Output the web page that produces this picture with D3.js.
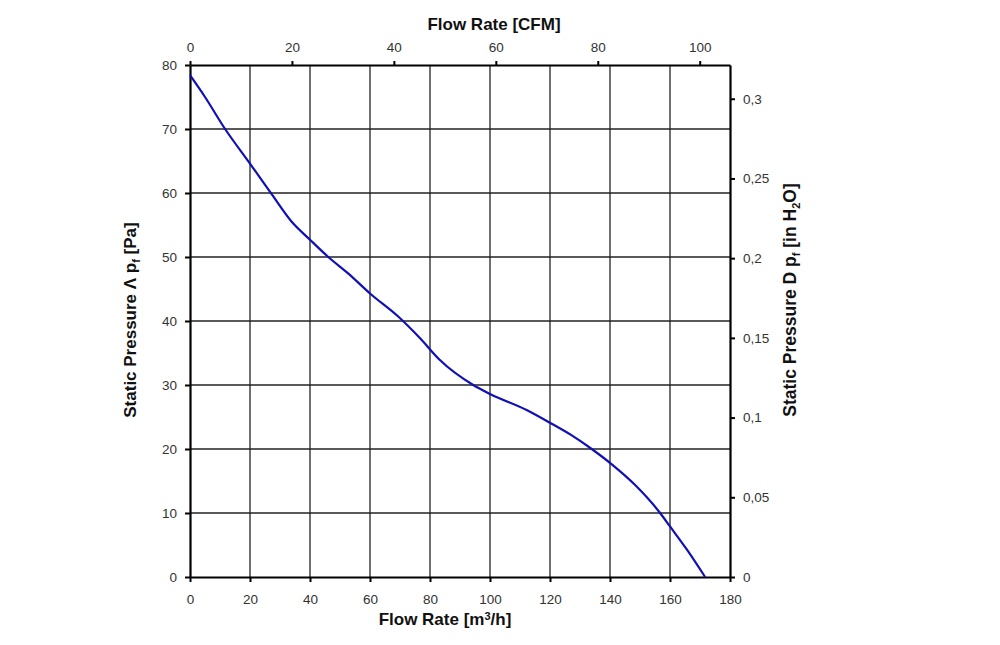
<!DOCTYPE html>
<html>
<head>
<meta charset="utf-8">
<script src="https://cdn.jsdelivr.net/npm/d3@7"></script>
<style>
  body { margin: 0; background: #fff; }
  text { font-family: "Liberation Sans", Arial, sans-serif; }
</style>
</head>
<body>
<svg id="chart"></svg>
<script>
// fan curve
var flowM3h = [0, 5, 11.7, 20, 27.4, 33.9, 40, 46.1, 52.8, 60, 69.4, 76.7, 83.3, 94.4, 100, 112.2, 120, 127, 133.9, 140.6, 148.3, 156.7, 160, 165.6, 171.7]
var pressurePa = [78.4, 75.0, 70.0, 64.6, 59.7, 55.5, 52.7, 50.0, 47.4, 44.3, 40.7, 37.3, 33.9, 30.0, 28.6, 26.1, 24.1, 22.2, 20.0, 17.6, 14.4, 10.0, 7.9, 4.3, 0]

var bottomTicks = [0, 20, 40, 60, 80, 100, 120, 140, 160, 180]
var leftTicks = [0, 10, 20, 30, 40, 50, 60, 70, 80]
var topTicks = [0, 20, 40, 60, 80, 100]
var rightTicks = [0, 0.05, 0.1, 0.15, 0.2, 0.25, 0.3]

var M3H_PER_CFM = 1.699
var PA_PER_INH2O = 249.09

var dimensions = {
    width: 1000,
    height: 645,
    margin: { top: 65, bottom: 68, right: 270, left: 190 }
}

var svg = d3.select('#chart')
    .attr("width", dimensions.width)
    .attr("height", dimensions.height)

var x0 = dimensions.margin.left
var x1 = dimensions.width - dimensions.margin.right
var y0 = dimensions.height - dimensions.margin.bottom
var y1 = dimensions.margin.top

var xScale = d3.scaleLinear().domain([0, 180]).range([x0, x1])
var yScale = d3.scaleLinear().domain([0, 80]).range([y0, y1])
var xTopScale = d3.scaleLinear().domain([0, 180 / M3H_PER_CFM]).range([x0, x1])
var yRightScale = d3.scaleLinear().domain([0, 80 / PA_PER_INH2O]).range([y0, y1])

// grid
svg.append("g")
    .selectAll("line")
    .data(bottomTicks.slice(1, -1))
    .enter().append("line")
    .attr("x1", d => xScale(d)).attr("x2", d => xScale(d))
    .attr("y1", y1).attr("y2", y0)
    .attr("stroke", "#222").attr("stroke-width", 1.3)

svg.append("g")
    .selectAll("line")
    .data(leftTicks.slice(1, -1))
    .enter().append("line")
    .attr("y1", d => yScale(d)).attr("y2", d => yScale(d))
    .attr("x1", x0).attr("x2", x1)
    .attr("stroke", "#222").attr("stroke-width", 1.3)

function styleAxis(g) {
    g.select(".domain").attr("stroke", "#000").attr("stroke-width", 2.2)
    g.selectAll(".tick line").attr("stroke", "#000").attr("stroke-width", 2)
    g.selectAll(".tick text")
        .attr("fill", "#333")
        .style("font-size", "13.5px")
        .style("font-family", "'Liberation Sans', Arial, sans-serif")
}

var commaFmt = d => d3.format("~g")(d).replace(".", ",")

svg.append("g")
    .attr("transform", `translate(0,${y0})`)
    .call(d3.axisBottom(xScale).tickValues(bottomTicks).tickSize(5).tickSizeOuter(0).tickPadding(12))
    .call(styleAxis)

svg.append("g")
    .attr("transform", `translate(${x0},0)`)
    .call(d3.axisLeft(yScale).tickValues(leftTicks).tickSize(5).tickSizeOuter(0).tickPadding(8))
    .call(styleAxis)

svg.append("g")
    .attr("transform", `translate(0,${y1})`)
    .call(d3.axisTop(xTopScale).tickValues(topTicks).tickSize(4).tickSizeOuter(0).tickPadding(9))
    .call(styleAxis)

svg.append("g")
    .attr("transform", `translate(${x1},0)`)
    .call(d3.axisRight(yRightScale).tickValues(rightTicks).tickFormat(commaFmt).tickSize(5).tickSizeOuter(0).tickPadding(8))
    .call(styleAxis)

// curve
var points = flowM3h.map((f, i) => [f, pressurePa[i]])
var line = d3.line()
    .x(d => xScale(d[0]))
    .y(d => yScale(d[1]))
    .curve(d3.curveMonotoneX)

svg.append("path")
    .datum(points)
    .attr("d", line)
    .attr("fill", "none")
    .attr("stroke", "#1010b4")
    .attr("stroke-width", 2.2)

// titles
var titleStyle = sel => sel.style("font-weight", "bold").style("font-size", "17px").attr("fill", "#111")

svg.append("text")
    .attr("x", 494).attr("y", 30)
    .attr("text-anchor", "middle")
    .call(titleStyle)
    .text("Flow Rate [CFM]")

var bt = svg.append("text")
    .attr("x", 445).attr("y", 625)
    .attr("text-anchor", "middle")
    .call(titleStyle)
bt.append("tspan").text("Flow Rate [m")
bt.append("tspan").attr("dy", -5).style("font-size", "11px").text("3")
bt.append("tspan").attr("dy", 5).text("/h]")

var lt = svg.append("text")
    .attr("transform", "translate(136,320) rotate(-90)")
    .attr("text-anchor", "middle")
    .call(titleStyle)
lt.append("tspan").text("Static Pressure Λ p")
lt.append("tspan").attr("dy", 4).style("font-size", "11px").text("f")
lt.append("tspan").attr("dy", -4).text(" [Pa]")

var rt = svg.append("text")
    .attr("transform", "translate(796,300) rotate(-90)")
    .attr("text-anchor", "middle")
    .call(titleStyle)
    .style("font-size", "17.5px")
rt.append("tspan").text("Static Pressure D p")
rt.append("tspan").attr("dy", 4).style("font-size", "11px").text("f")
rt.append("tspan").attr("dy", -4).text(" [in H")
rt.append("tspan").attr("dy", 4).style("font-size", "11px").text("2")
rt.append("tspan").attr("dy", -4).text("O]")
</script>
</body>
</html>
